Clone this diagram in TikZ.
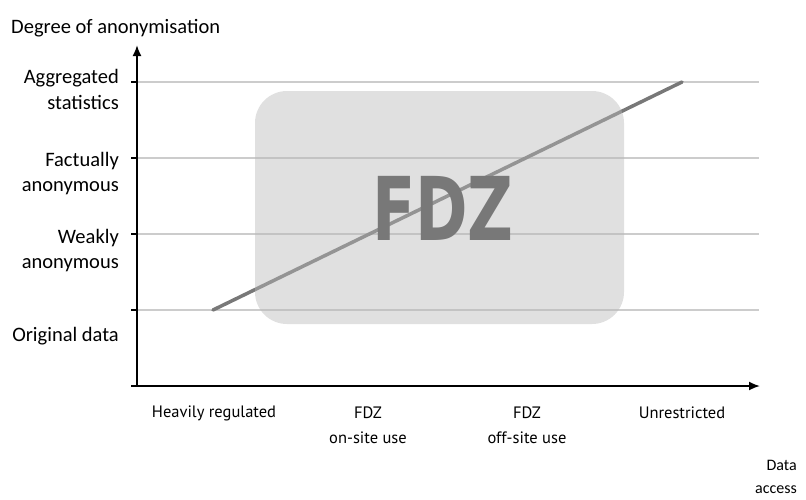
\documentclass[tikz,border=0pt]{standalone}
\usepackage{fontspec}
\setmainfont{Carlito}
\newfontfamily\accessfont{PT Sans}
\newfontfamily\bigfont{DejaVu Sans}
\usetikzlibrary{arrows.meta}
\definecolor{gridgray}{gray}{0.8}
\definecolor{linegray}{gray}{0.47}
\definecolor{boxgray}{gray}{0.72}
\definecolor{fdzgray}{gray}{0.47}

\begin{document}
\begin{tikzpicture}[x=1pt, y=-1pt, >={Latex[length=11pt,width=9pt]},
    level/.style={font=\fontsize{20.5}{25.5}\selectfont, align=right, anchor=east, inner sep=0pt},
    access/.style={font=\accessfont\fontsize{16.5}{25}\selectfont, align=center, inner sep=0pt}]
  \useasboundingbox (0,0) rectangle (806,499);

  % axes
  \coordinate (origin) at (137,386);
  \coordinate (xstart) at (131,386);
  \coordinate (ytip) at (137,45);
  \coordinate (xtip) at (760,386);

  % grid lines with ticks
  \foreach \y [count=\i] in {82,158,234,310} {
    \coordinate (tick\i) at (131,\y);
    \coordinate (grid\i) at (137,\y);
    \coordinate (gridend\i) at (759,\y);
    \draw[gridgray, line width=1.3pt] (grid\i) -- (gridend\i);
    \draw[line width=1.3pt] (tick\i) -- (grid\i);
  }

  \draw[->, line width=1.8pt] (origin) -- (ytip);
  \draw[->, line width=1.8pt] (xstart) -- (xtip);

  % diagonal
  \coordinate (low) at (213,310);
  \coordinate (high) at (682,82);
  \draw[linegray, line width=3.5pt, line cap=round] (low) -- (high);

  % FDZ box
  \node[fill=boxgray, fill opacity=0.44, rounded corners=32pt, minimum width=369pt, minimum height=233pt, inner sep=0pt] (fdz) at (439.5,207.5) {};
  \node[text=fdzgray, font=\bigfont\bfseries\fontsize{88}{88}\selectfont, xscale=0.72, inner sep=0pt] (fdzlabel) at (443,208) {FDZ};

  % labels
  \node[font=\fontsize{20.5}{24}\selectfont, anchor=base west, inner sep=0pt] (ylabel) at (11,33) {Degree of anonymisation};
  \node[level] (aggregated) at (119,89.5) {Aggregated\\statistics};
  \node[level] (factual) at (119,173.5) {Factually\\anonymous};
  \node[level] (weak) at (119,250.5) {Weakly\\anonymous};
  \node[level] (original) at (119,336) {Original data};

  \node[access] (heavy) at (214,413) {Heavily regulated};
  \node[access] (onsite) at (368,425.5) {FDZ\\on-site use};
  \node[access] (offsite) at (527,425.5) {FDZ\\off-site use};
  \node[access] (open) at (682,413) {Unrestricted};
  \node[font=\fontsize{16}{23}\selectfont, align=right, anchor=east, inner sep=0pt] (xlabel) at (797,477) {Data\\access};
\end{tikzpicture}
\end{document}
